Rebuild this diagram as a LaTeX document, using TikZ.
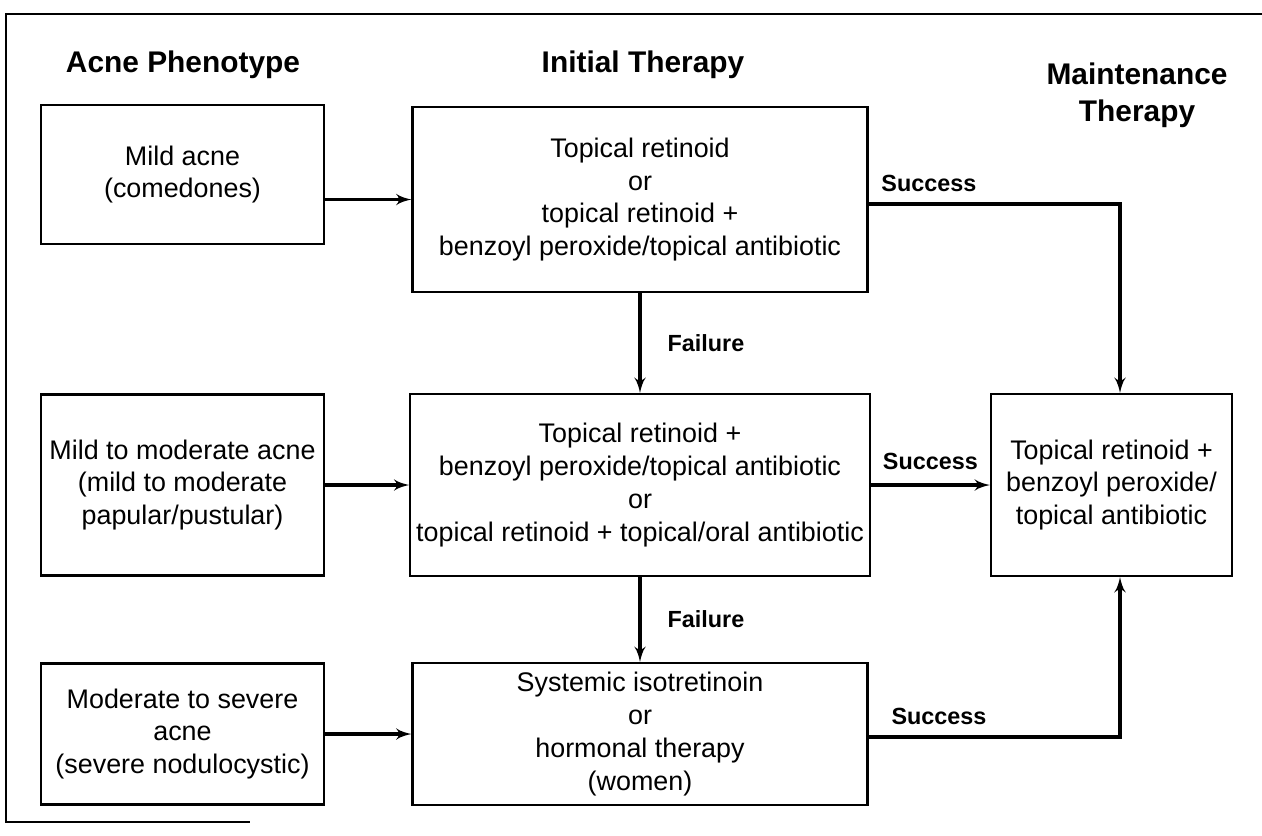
\documentclass[tikz,border=0pt]{standalone}
\usepackage{fontspec}
\setmainfont{Liberation Sans}
\usepackage{tikz}
\usetikzlibrary{shapes,arrows,positioning,calc}

\begin{document}
\begin{tikzpicture}[node distance=2cm, auto]
\tikzstyle{header} = [font=\bfseries\fontsize{17}{21}\selectfont, align=center]
\tikzstyle{phenotype} = [rectangle, draw, line width=1.2pt, align=center, minimum width=5.66cm, font=\fontsize{15.3}{18.7}\selectfont]
\tikzstyle{therapy} = [rectangle, draw, line width=1.2pt, align=center, minimum width=9.1cm, font=\fontsize{15.3}{18.7}\selectfont]
\tikzstyle{outcome} = [font=\bfseries\fontsize{13.3}{16}\selectfont]
\tikzstyle{line} = [draw, line width=2pt, -latex']

\path [fill=white, use as bounding box] (0,0) rectangle (25.24,-16.7);
\draw [line width=0.8pt] (25.24,-0.28) -- (0.12,-0.28) -- (0.12,-16.44) -- (5,-16.44);

\node [header] (phenohead) at (3.66,-1.3) {Acne Phenotype};
\node [header] (inithead) at (12.86,-1.3) {Initial Therapy};
\node [header] (mainthead) at (22.74,-1.9) {Maintenance\\Therapy};

\node [therapy, minimum height=3.7cm] (topical) at (12.8,-3.99) {Topical retinoid\\or\\topical retinoid +\\benzoyl peroxide/topical antibiotic};
\node [therapy, below of=topical, node distance=5.71cm, minimum height=3.64cm] (combined) {Topical retinoid +\\benzoyl peroxide/topical antibiotic\\or\\topical retinoid + topical/oral antibiotic};
\node [therapy, below of=combined, node distance=4.98cm, minimum height=2.84cm] (systemic) {Systemic isotretinoin\\or\\hormonal therapy\\(women)};

\node [phenotype, left of=topical, node distance=9.15cm, yshift=0.5cm, minimum height=2.78cm] (mild) {Mild acne\\(comedones)};
\node [phenotype, left of=combined, node distance=9.15cm, minimum height=3.62cm] (moderate) {Mild to moderate acne\\(mild to moderate\\papular/pustular)};
\node [phenotype, left of=systemic, node distance=9.15cm, minimum height=2.82cm] (severe) {Moderate to severe\\acne\\(severe nodulocystic)};

\node [therapy, right of=combined, node distance=9.43cm, minimum width=4.82cm, minimum height=3.64cm] (maint) {Topical retinoid +\\benzoyl peroxide/\\topical antibiotic};

\path [line] (mild.east |- topical.west) -- (topical.west);
\path [line] (moderate.east |- combined.west) -- (combined.west);
\path [line] (severe.east |- systemic.west) -- (systemic.west);

\path [line] (topical) -- node [outcome, right, xshift=0.4cm] {Failure} (combined);
\path [line] (combined) -- node [outcome, right, xshift=0.4cm] {Failure} (systemic);

\path [line] ([yshift=-0.09cm]topical.east) -| node [outcome, above, pos=0.12, yshift=0.1cm] {Success} ([xshift=0.17cm]maint.north);
\path [line] (combined.east) -- node [outcome, above, yshift=0.15cm] {Success} (maint.west);
\path [line] ([yshift=-0.06cm]systemic.east) -| node [outcome, above, pos=0.14, yshift=0.1cm] {Success} ([xshift=0.17cm]maint.south);
\end{tikzpicture}
\end{document}
